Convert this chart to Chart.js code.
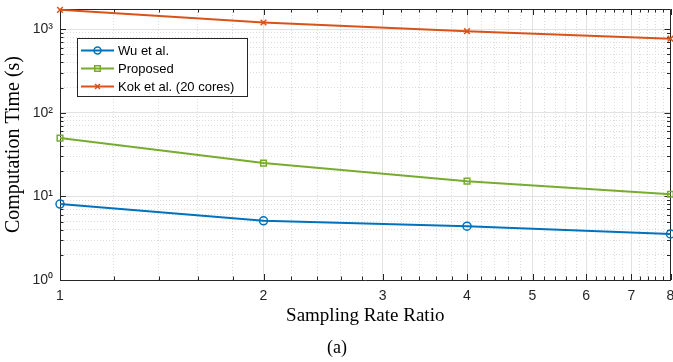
<!DOCTYPE html>
<html lang="en">
<head>
    <meta charset="UTF-8">
    <title>Computation Time vs Sampling Rate Ratio</title>
    <style>
        html, body { margin: 0; padding: 0; background: #fff; overflow: hidden; }
        /* a few px wider than the window: the last x label gets clipped like in the figure */
        #wrap { width: 676px; height: 362px; }
    </style>
</head>
<body>
    <div id="wrap"><canvas id="timeChart"></canvas></div>

    <script src="https://cdn.jsdelivr.net/npm/chart.js"></script>
    <script>
        // values (log-log axes)
        const ratios = [1, 2, 4, 8];
        const wuTimes = [8.1, 5.1, 4.4, 3.55];
        const proposedTimes = [49.8, 25.0, 15.2, 10.6];
        const kokTimes = [1700, 1200, 944, 768];

        const xTickLabels = [1, 2, 3, 4, 5, 6, 7, 8];
        const yTickLabels = [1, 10, 100, 1000];
        const seriesNames = ['Wu et al.', 'Proposed', 'Kok et al. (20 cores)'];

        const sansFont = "'Liberation Sans', Arial, sans-serif";
        const serifFont = "'Liberation Serif', 'Times New Roman', serif";
        const axisColor = '#262626';

        // minor tick positions (every 0.2 on x, 2..9 per decade on y)
        const xTicksAll = [];
        xTickLabels.forEach((v, i) => {
            xTicksAll.push(v);
            if (i < xTickLabels.length - 1) {
                [0.2, 0.4, 0.6, 0.8].forEach(f => xTicksAll.push(v + f));
            }
        });
        const yTicksAll = [];
        yTickLabels.forEach(v => {
            yTicksAll.push(v);
            for (let k = 2; k <= 9; k++) {
                if (v * k < 1740) yTicksAll.push(v * k);
            }
        });

        const isMajorX = v => xTickLabels.some(t => Math.abs(t - v) < 1e-9);
        const isMajorY = v => yTickLabels.some(t => Math.abs(t - v) < 1e-9);
        const sup = { '0': '\u2070', '1': '\u00b9', '2': '\u00b2', '3': '\u00b3' };

        const toPoints = ys => ratios.map((r, i) => ({ x: r, y: ys[i] }));

        function makeSeries(label, ys, color, style) {
            return {
                label: label,
                data: toPoints(ys),
                borderColor: color,
                backgroundColor: color,
                borderWidth: 2,
                pointStyle: style,
                pointRadius: 4,
                pointBorderWidth: 1.5,
                pointBackgroundColor: 'rgba(255,255,255,0)',
                pointBorderColor: color,
                clip: false,
                tension: 0
            };
        }

        // box, inward tick marks (MATLAB style)
        const boxPlugin = {
            id: 'boxPlugin',
            beforeDatasetsDraw(chart) {
                const { ctx, chartArea: a, scales } = chart;
                ctx.save();
                ctx.strokeStyle = axisColor;
                ctx.lineWidth = 1;
                ctx.beginPath();
                xTicksAll.forEach(v => {
                    const px = Math.round(scales.x.getPixelForValue(v)) + 0.5;
                    const len = isMajorX(v) ? 6 : 3.5;
                    ctx.moveTo(px, a.bottom); ctx.lineTo(px, a.bottom - len);
                    ctx.moveTo(px, a.top); ctx.lineTo(px, a.top + len);
                });
                yTicksAll.forEach(v => {
                    const py = Math.round(scales.y.getPixelForValue(v)) + 0.5;
                    const len = isMajorY(v) ? 6 : 3.5;
                    ctx.moveTo(a.left, py); ctx.lineTo(a.left + len, py);
                    ctx.moveTo(a.right, py); ctx.lineTo(a.right - len, py);
                });
                ctx.stroke();
                ctx.beginPath();
                ctx.moveTo(a.left, Math.round(a.top) + 0.5);
                ctx.lineTo(Math.round(a.right) - 0.5, Math.round(a.top) + 0.5);
                ctx.lineTo(Math.round(a.right) - 0.5, a.bottom);
                ctx.stroke();
                ctx.restore();
            }
        };

        function drawMarker(ctx, style, x, y, r) {
            ctx.beginPath();
            if (style === 'circle') {
                ctx.arc(x, y, r, 0, Math.PI * 2);
            } else if (style === 'rect') {
                ctx.rect(x - r * 0.8, y - r * 0.8, r * 1.6, r * 1.6);
            } else {
                const d = r * 0.7;
                ctx.moveTo(x - d, y - d); ctx.lineTo(x + d, y + d);
                ctx.moveTo(x + d, y - d); ctx.lineTo(x - d, y + d);
            }
            ctx.stroke();
        }

        // legend box in the upper left, like the figure
        const legendPlugin = {
            id: 'boxLegend',
            afterDatasetsDraw(chart) {
                const ctx = chart.ctx;
                const bx = 77.5, by = 38.5, bw = 170, bh = 58;
                ctx.save();
                ctx.fillStyle = '#fff';
                ctx.fillRect(bx, by, bw, bh);
                ctx.strokeStyle = axisColor;
                ctx.lineWidth = 1;
                ctx.strokeRect(bx, by, bw, bh);
                chart.data.datasets.forEach((ds, i) => {
                    const y = 50.5 + i * 18;
                    ctx.strokeStyle = ds.borderColor;
                    ctx.lineWidth = 2;
                    ctx.beginPath();
                    ctx.moveTo(81, y); ctx.lineTo(114, y);
                    ctx.stroke();
                    ctx.lineWidth = 1.5;
                    drawMarker(ctx, ds.pointStyle, 97.5, y, 3.5);
                    ctx.fillStyle = '#000';
                    ctx.font = '13px ' + sansFont;
                    ctx.textBaseline = 'middle';
                    ctx.textAlign = 'left';
                    ctx.fillText(ds.label, 118, y + 0.5);
                });
                ctx.restore();
            }
        };

        new Chart(document.getElementById('timeChart'), {
            type: 'line',
            data: {
                datasets: [
                    makeSeries(seriesNames[0], wuTimes, '#0072BD', 'circle'),
                    makeSeries(seriesNames[1], proposedTimes, '#77AC30', 'rect'),
                    makeSeries(seriesNames[2], kokTimes, '#D95319', 'crossRot')
                ]
            },
            options: {
                responsive: true,
                maintainAspectRatio: false,
                animation: false,
                layout: { padding: { top: 9, right: 2, left: 0, bottom: 0 } },
                plugins: {
                    legend: { display: false },
                    tooltip: { enabled: false },
                    title: {
                        display: true,
                        text: '(a)',
                        position: 'bottom',
                        color: '#000',
                        font: { family: serifFont, size: 18, weight: 'normal' },
                        padding: { top: 0, bottom: 3 }
                    }
                },
                scales: {
                    x: {
                        type: 'logarithmic',
                        min: 1,
                        max: 8,
                        afterBuildTicks: scale => {
                            scale.ticks = xTicksAll.map(v => ({ value: v }));
                        },
                        afterFit: scale => {
                            scale.height = 57.4;
                            scale.paddingLeft = 0;
                            scale.paddingRight = 0;
                        },
                        ticks: {
                            autoSkip: false,
                            maxRotation: 0,
                            padding: 8,
                            color: axisColor,
                            font: { family: sansFont, size: 14 },
                            callback: v => isMajorX(v) ? String(Math.round(v)) : ''
                        },
                        grid: {
                            drawTicks: false,
                            color: c => (c.tick && isMajorX(c.tick.value)) ? '#e2e2e2' : '#dcdcdc'
                        },
                        border: {
                            color: axisColor,
                            dash: c => (c.tick && !isMajorX(c.tick.value)) ? [1, 2] : []
                        },
                        title: {
                            display: true,
                            text: 'Sampling Rate Ratio',
                            color: '#000',
                            font: { family: serifFont, size: 19 },
                            padding: { top: 0, bottom: 10 }
                        }
                    },
                    y: {
                        type: 'logarithmic',
                        min: 1,
                        max: 1740,
                        afterBuildTicks: scale => {
                            scale.ticks = yTicksAll.map(v => ({ value: v }));
                        },
                        afterFit: scale => {
                            scale.width = 60;
                            scale.paddingTop = 0;
                            scale.paddingBottom = 0;
                        },
                        ticks: {
                            autoSkip: false,
                            padding: 7,
                            color: axisColor,
                            font: { family: sansFont, size: 14 },
                            callback: v => {
                                if (!isMajorY(v)) return '';
                                const e = Math.round(Math.log10(v));
                                return '10' + sup[String(e)];
                            }
                        },
                        grid: {
                            drawTicks: false,
                            color: c => (c.tick && isMajorY(c.tick.value)) ? '#e2e2e2' : '#dcdcdc'
                        },
                        border: {
                            color: axisColor,
                            dash: c => (c.tick && !isMajorY(c.tick.value)) ? [1, 2] : []
                        },
                        title: {
                            display: true,
                            text: 'Computation Time (s)',
                            color: '#000',
                            font: { family: serifFont, size: 20 },
                            padding: { top: 2, bottom: 0 }
                        }
                    }
                }
            },
            plugins: [boxPlugin, legendPlugin]
        });
    </script>
</body>
</html>
